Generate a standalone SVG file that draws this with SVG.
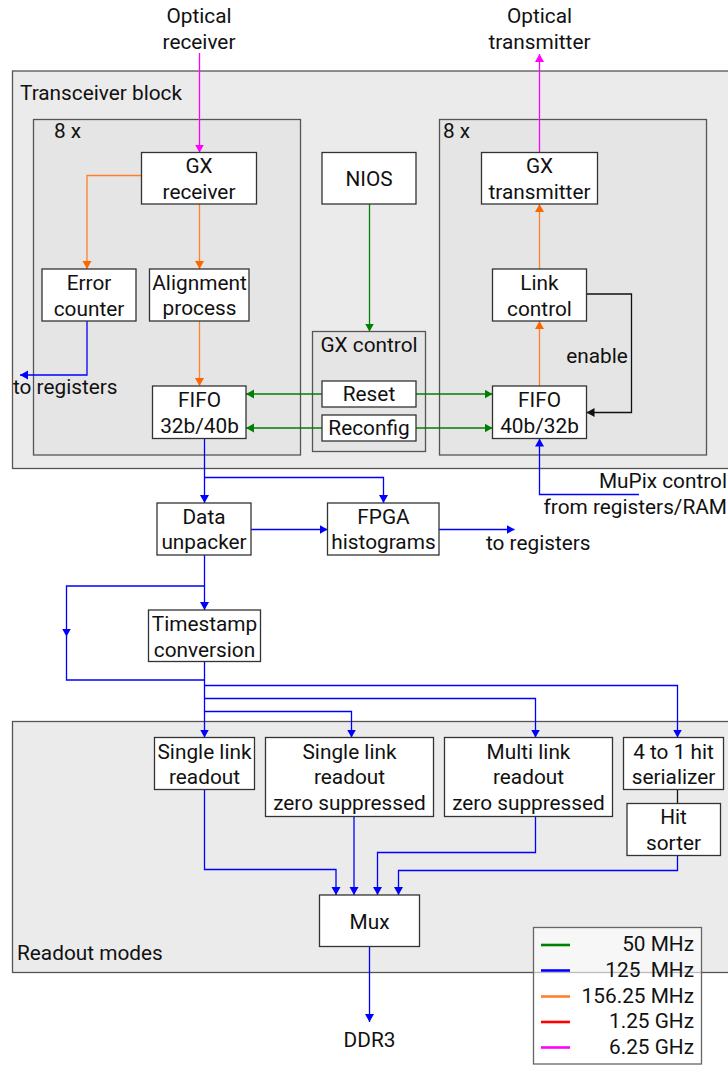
<svg xmlns="http://www.w3.org/2000/svg" width="728" height="1066" viewBox="0 0 728 1066">
  <style>
    text { font-family: Roboto, "Liberation Sans", sans-serif; font-size: 20.8px; fill: #111; }
    .c { text-anchor: middle; }
    .r { text-anchor: end; }
    .outer { fill: #ebebeb; stroke: #555; stroke-width: 1.3; }
    .inner { fill: #e5e5e5; stroke: #555; stroke-width: 1.3; }
    .box { fill: #fff; stroke: #333; stroke-width: 1.3; }
    .w { fill: none; stroke-width: 1.3; }
    .blue { stroke: #0000ff; }
    .green { stroke: #008000; }
    .orange { stroke: #ff7f2a; }
    .pink { stroke: #ff00ff; }
    .black { stroke: #111; }
  </style>
  <defs>
    <marker id="ah-blue" markerUnits="userSpaceOnUse" markerWidth="10" markerHeight="10" refX="8" refY="4.5" orient="auto">
      <path d="M0,0 L8,4.5 L0,9 z" fill="#0000ff"/>
    </marker>
    <marker id="ah-green" markerUnits="userSpaceOnUse" markerWidth="10" markerHeight="10" refX="8" refY="4.5" orient="auto">
      <path d="M0,0 L8,4.5 L0,9 z" fill="#008000"/>
    </marker>
    <marker id="ah-orange" markerUnits="userSpaceOnUse" markerWidth="10" markerHeight="10" refX="8" refY="4.5" orient="auto">
      <path d="M0,0 L8,4.5 L0,9 z" fill="#ff6600"/>
    </marker>
    <marker id="ah-pink" markerUnits="userSpaceOnUse" markerWidth="10" markerHeight="10" refX="8" refY="4.5" orient="auto">
      <path d="M0,0 L8,4.5 L0,9 z" fill="#ff00ff"/>
    </marker>
    <marker id="ah-black" markerUnits="userSpaceOnUse" markerWidth="10" markerHeight="10" refX="8" refY="4.5" orient="auto">
      <path d="M0,0 L8,4.5 L0,9 z" fill="#111"/>
    </marker>
  </defs>

  <rect width="728" height="1066" fill="#fff"/>

  <!-- containers -->
  <g id="transceiver-block">
    <rect class="outer" x="12.5" y="71" width="730" height="397.5"/>
    <text x="20" y="100">Transceiver block</text>
  </g>
  <g id="rx-lanes">
    <rect class="inner" x="33.5" y="119.5" width="267" height="335.5"/>
    <text x="54" y="138">8 x</text>
  </g>
  <g id="tx-lanes">
    <rect class="inner" x="439.5" y="119.5" width="267" height="335.5"/>
    <text x="443" y="138">8 x</text>
  </g>
  <g id="gx-control">
    <rect class="inner" x="312.5" y="331.5" width="113" height="120"/>
    <text class="c" x="369" y="351.5">GX control</text>
  </g>
  <g id="readout-modes">
    <rect class="outer" x="12.5" y="721.5" width="730" height="251"/>
    <text x="17" y="960">Readout modes</text>
  </g>

  <!-- connectors -->
  <g id="connectors">
    <!-- optical links -->
    <line class="w pink" x1="199.5" y1="53" x2="199.5" y2="152.5" marker-end="url(#ah-pink)"/>
    <line class="w pink" x1="539.5" y1="152.5" x2="539.5" y2="54" marker-end="url(#ah-pink)"/>
    <!-- receive path -->
    <polyline class="w orange" points="141.5,175.5 87,175.5 87,269" marker-end="url(#ah-orange)"/>
    <line class="w orange" x1="199.5" y1="204" x2="199.5" y2="269" marker-end="url(#ah-orange)"/>
    <line class="w orange" x1="199.5" y1="321" x2="199.5" y2="386" marker-end="url(#ah-orange)"/>
    <polyline class="w blue" points="87,321 87,375 20,375" marker-end="url(#ah-blue)"/>
    <!-- transmit path -->
    <line class="w orange" x1="539.5" y1="269" x2="539.5" y2="204" marker-end="url(#ah-orange)"/>
    <line class="w orange" x1="539.5" y1="386" x2="539.5" y2="321" marker-end="url(#ah-orange)"/>
    <polyline class="w black" points="586.5,294 631.5,294 631.5,412.5 586.5,412.5" marker-end="url(#ah-black)"/>
    <polyline class="w blue" points="639,494.5 539.5,494.5 539.5,438.5" marker-end="url(#ah-blue)"/>
    <!-- control -->
    <line class="w green" x1="369.5" y1="204" x2="369.5" y2="331.5" marker-end="url(#ah-green)"/>
    <line class="w green" x1="322" y1="394" x2="246" y2="394" marker-end="url(#ah-green)"/>
    <line class="w green" x1="322" y1="428" x2="246" y2="428" marker-end="url(#ah-green)"/>
    <line class="w green" x1="416" y1="394" x2="492.5" y2="394" marker-end="url(#ah-green)"/>
    <line class="w green" x1="416" y1="428" x2="492.5" y2="428" marker-end="url(#ah-green)"/>
    <!-- data path -->
    <line class="w blue" x1="204.5" y1="438.5" x2="204.5" y2="503" marker-end="url(#ah-blue)"/>
    <polyline class="w blue" points="204.5,477.5 383.5,477.5 383.5,503" marker-end="url(#ah-blue)"/>
    <line class="w blue" x1="251" y1="529.5" x2="327.5" y2="529.5" marker-end="url(#ah-blue)"/>
    <line class="w blue" x1="439" y1="529.5" x2="514.5" y2="529.5" marker-end="url(#ah-blue)"/>
    <line class="w blue" x1="204.5" y1="555" x2="204.5" y2="610" marker-end="url(#ah-blue)"/>
    <polyline class="w blue" points="204.5,586 66.5,586 66.5,636.5" marker-end="url(#ah-blue)"/>
    <polyline class="w blue" points="66.5,636 66.5,680 204.5,680"/>
    <line class="w blue" x1="204.5" y1="661.5" x2="204.5" y2="737.5" marker-end="url(#ah-blue)"/>
    <polyline class="w blue" points="204.5,685.5 677.5,685.5 677.5,737.5" marker-end="url(#ah-blue)"/>
    <polyline class="w blue" points="204.5,698.5 535.5,698.5 535.5,737.5" marker-end="url(#ah-blue)"/>
    <polyline class="w blue" points="204.5,711.5 351.5,711.5 351.5,737.5" marker-end="url(#ah-blue)"/>
    <!-- readout to mux -->
    <line class="w black" x1="677.5" y1="789.5" x2="677.5" y2="803.5"/>
    <polyline class="w blue" points="204.5,789.5 204.5,869.5 336,869.5 336,895" marker-end="url(#ah-blue)"/>
    <line class="w blue" x1="354" y1="816.5" x2="354" y2="895" marker-end="url(#ah-blue)"/>
    <polyline class="w blue" points="535.5,816.5 535.5,852.5 377.5,852.5 377.5,895" marker-end="url(#ah-blue)"/>
    <polyline class="w blue" points="677.5,855.5 677.5,870.5 398.5,870.5 398.5,895" marker-end="url(#ah-blue)"/>
    <line class="w blue" x1="369.5" y1="946.5" x2="369.5" y2="1022" marker-end="url(#ah-blue)"/>
  </g>

  <!-- nodes -->
  <g id="gx-receiver">
    <rect class="box" x="141.5" y="152.5" width="115" height="51.5"/>
    <text class="c" x="199" y="173">GX</text>
    <text class="c" x="199" y="199">receiver</text>
  </g>
  <g id="error-counter">
    <rect class="box" x="42" y="269" width="94" height="52"/>
    <text class="c" x="89" y="290">Error</text>
    <text class="c" x="89" y="315.5">counter</text>
  </g>
  <g id="alignment-process">
    <rect class="box" x="149.5" y="269" width="99.5" height="52"/>
    <text class="c" x="199.5" y="289.5">Alignment</text>
    <text class="c" x="199.5" y="314.5">process</text>
  </g>
  <g id="fifo-rx">
    <rect class="box" x="152.5" y="386" width="93.5" height="52.5"/>
    <text class="c" x="199.5" y="406.5">FIFO</text>
    <text class="c" x="199.5" y="432.5">32b/40b</text>
  </g>
  <g id="nios">
    <rect class="box" x="322" y="152.5" width="94" height="51.5"/>
    <text class="c" x="369" y="185.5">NIOS</text>
  </g>
  <g id="reset">
    <rect class="box" x="322" y="381" width="94" height="26"/>
    <text class="c" x="369" y="400.5">Reset</text>
  </g>
  <g id="reconfig">
    <rect class="box" x="322" y="415" width="94" height="26"/>
    <text class="c" x="369" y="435">Reconfig</text>
  </g>
  <g id="gx-transmitter">
    <rect class="box" x="481.5" y="152.5" width="116" height="51.5"/>
    <text class="c" x="539.5" y="173">GX</text>
    <text class="c" x="539.5" y="199">transmitter</text>
  </g>
  <g id="link-control">
    <rect class="box" x="492.5" y="269" width="94" height="52"/>
    <text class="c" x="539.5" y="290">Link</text>
    <text class="c" x="539.5" y="316">control</text>
  </g>
  <g id="fifo-tx">
    <rect class="box" x="492.5" y="386" width="94" height="52.5"/>
    <text class="c" x="539.5" y="406.5">FIFO</text>
    <text class="c" x="539.5" y="432.5">40b/32b</text>
  </g>
  <g id="data-unpacker">
    <rect class="box" x="157" y="503" width="94" height="52"/>
    <text class="c" x="204" y="523.5">Data</text>
    <text class="c" x="204" y="549">unpacker</text>
  </g>
  <g id="fpga-histograms">
    <rect class="box" x="327.5" y="503" width="111.5" height="52"/>
    <text class="c" x="383.5" y="523.5">FPGA</text>
    <text class="c" x="383.5" y="549">histograms</text>
  </g>
  <g id="timestamp-conversion">
    <rect class="box" x="148.5" y="610" width="112" height="51.5"/>
    <text class="c" x="204.5" y="631">Timestamp</text>
    <text class="c" x="204.5" y="656.5">conversion</text>
  </g>
  <g id="single-link-readout">
    <rect class="box" x="154.5" y="737.5" width="100" height="52"/>
    <text class="c" x="204.5" y="758.5">Single link</text>
    <text class="c" x="204.5" y="784">readout</text>
  </g>
  <g id="single-link-readout-zs">
    <rect class="box" x="265.5" y="737.5" width="168" height="79"/>
    <text class="c" x="349.5" y="758.5">Single link</text>
    <text class="c" x="349.5" y="784">readout</text>
    <text class="c" x="349.5" y="809.5">zero suppressed</text>
  </g>
  <g id="multi-link-readout-zs">
    <rect class="box" x="444.5" y="737.5" width="168" height="79"/>
    <text class="c" x="528.5" y="758.5">Multi link</text>
    <text class="c" x="528.5" y="784">readout</text>
    <text class="c" x="528.5" y="809.5">zero suppressed</text>
  </g>
  <g id="hit-serializer">
    <rect class="box" x="623.5" y="737.5" width="100" height="52"/>
    <text class="c" x="673.5" y="758.5">4 to 1 hit</text>
    <text class="c" x="673.5" y="783.5">serializer</text>
  </g>
  <g id="hit-sorter">
    <rect class="box" x="627" y="803.5" width="93.5" height="52"/>
    <text class="c" x="673.5" y="824">Hit</text>
    <text class="c" x="673.5" y="850">sorter</text>
  </g>
  <g id="mux">
    <rect class="box" x="319.5" y="895" width="100" height="51.5"/>
    <text class="c" x="369.5" y="929">Mux</text>
  </g>

  <!-- free labels -->
  <g id="labels">
    <text class="c" x="199" y="23">Optical</text>
    <text class="c" x="199" y="49">receiver</text>
    <text class="c" x="539.5" y="23">Optical</text>
    <text class="c" x="539.5" y="49">transmitter</text>
    <text x="13" y="394">to registers</text>
    <text class="c" x="597" y="362.5">enable</text>
    <text class="r" x="727" y="488">MuPix control</text>
    <text class="r" x="727" y="514">from registers/RAM</text>
    <text x="486" y="550">to registers</text>
    <text class="c" x="369.5" y="1046.5">DDR3</text>
  </g>

  <!-- clock legend -->
  <g id="legend">
    <rect x="533.5" y="927.5" width="168" height="136.5" fill="#fff" fill-opacity="0.6" stroke="#666" stroke-width="1.3"/>
    <g stroke-width="2.6">
      <line x1="541" y1="945" x2="570" y2="945" stroke="#008000"/>
      <line x1="541" y1="970.5" x2="570" y2="970.5" stroke="#0000ff"/>
      <line x1="541" y1="996.5" x2="570" y2="996.5" stroke="#ff7f2a"/>
      <line x1="541" y1="1022" x2="570" y2="1022" stroke="#ff0000"/>
      <line x1="541" y1="1047.5" x2="570" y2="1047.5" stroke="#ff00ff"/>
    </g>
    <text class="r" x="694" y="951">50 MHz</text>
    <text class="r" x="694" y="976.5" xml:space="preserve">125  MHz</text>
    <text class="r" x="694" y="1002.5">156.25 MHz</text>
    <text class="r" x="694" y="1028">1.25 GHz</text>
    <text class="r" x="694" y="1054">6.25 GHz</text>
  </g>
</svg>
